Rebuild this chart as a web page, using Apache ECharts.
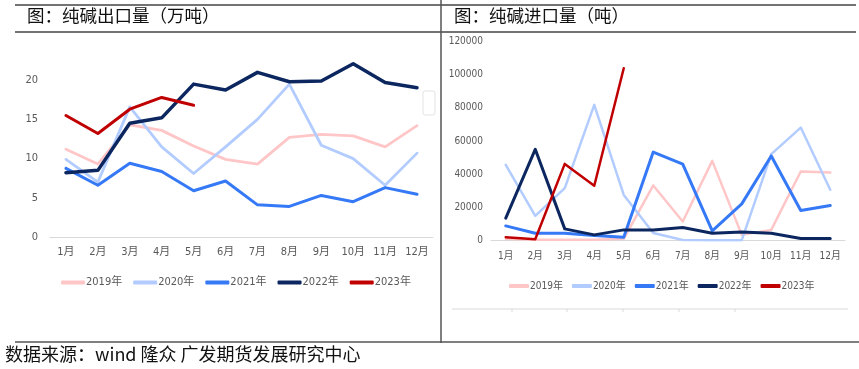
<!DOCTYPE html>
<html><head><meta charset="utf-8">
<script src="https://cdn.jsdelivr.net/npm/echarts@6/dist/echarts.min.js"></script>
<style>html,body{margin:0;padding:0;background:#fff}#c{width:859px;height:369px}</style>
</head><body><div id="c"></div>
<script>
const months = ['1月','2月','3月','4月','5月','6月','7月','8月','9月','10月','11月','12月'];
const seriesNames = ['2019年','2020年','2021年','2022年','2023年'];
const colors = ['#FFC6C8','#B3CCFF','#3579F6','#0C2760','#C00000'];

// 纯碱出口量（万吨）
const exp2019 = [11.2, 9.3, 14.3, 13.6, 11.6, 9.9, 9.3, 12.7, 13.1, 12.9, 11.5, 14.2];
const exp2020 = [9.9, 7.0, 16.6, 11.5, 8.1, 11.5, 15.0, 19.5, 11.7, 10.0, 6.6, 10.7];
const exp2021 = [8.75, 6.6, 9.4, 8.35, 5.9, 7.15, 4.1, 3.9, 5.3, 4.5, 6.3, 5.45];
const exp2022 = [8.2, 8.5, 14.5, 15.2, 19.5, 18.75, 21.0, 19.8, 19.9, 22.1, 19.7, 19.05];
const exp2023 = [15.5, 13.2, 16.3, 17.8, 16.8];

// 纯碱进口量（吨）
const imp2019 = [1000, 500, 500, 500, 1000, 33200, 11500, 48000, 3400, 6400, 41600, 41000];
const imp2020 = [45600, 14900, 31600, 81800, 27500, 4500, 300, 200, 200, 52100, 68100, 30600];
const imp2021 = [8800, 4400, 4400, 3000, 2000, 53300, 46000, 5800, 22100, 51000, 18100, 21100];
const imp2022 = [13500, 55000, 7000, 3400, 6400, 6400, 7800, 4400, 5200, 4400, 1200, 1200];
const imp2023 = [2000, 800, 46200, 33000, 103900];

const expData = [exp2019, exp2020, exp2021, exp2022, exp2023];
const impData = [imp2019, imp2020, imp2021, imp2022, imp2023];
const leftWidths = [2.8, 2.8, 3, 3.5, 3];
const rightWidths = [2.5, 2.5, 3, 3, 2.5];

const chart = echarts.init(document.getElementById('c'));
const labelFont = 'Liberation Sans Narrow, DejaVu Sans Condensed, Noto Sans CJK SC, sans-serif';
const series = [];
seriesNames.forEach((n, i) => {
  series.push({name: n, type: 'line', xAxisIndex: 0, yAxisIndex: 0, data: expData[i],
    symbol: 'none', lineStyle: {color: colors[i], width: leftWidths[i], cap: 'round', join: 'round'},
    itemStyle: {color: colors[i]}, z: 2 + i});
});
seriesNames.forEach((n, i) => {
  series.push({name: n, type: 'line', xAxisIndex: 1, yAxisIndex: 1, data: impData[i],
    symbol: 'none', lineStyle: {color: colors[i], width: rightWidths[i], cap: 'round', join: 'round'},
    itemStyle: {color: colors[i]}, z: 2 + i});
});

const lineStyleDark = {stroke: '#444', lineWidth: 1.5};
const thin = {stroke: '#D9D9D9', lineWidth: 1};
chart.setOption({
  animation: false,
  backgroundColor: '#fff',
  grid: [
    {left: 50, top: 41, width: 383, height: 196},
    {left: 491, top: 41.5, width: 354, height: 199}
  ],
  xAxis: [
    {gridIndex: 0, type: 'category', data: months, boundaryGap: true,
     axisLine: {lineStyle: {color: '#D9D9D9'}}, axisTick: {show: false},
     axisLabel: {color: '#595959', fontSize: 11, margin: 10, interval: 0, fontFamily: labelFont}},
    {gridIndex: 1, type: 'category', data: months, boundaryGap: true,
     axisLine: {lineStyle: {color: '#D9D9D9'}}, axisTick: {show: false},
     axisLabel: {color: '#595959', fontSize: 10, margin: 11, interval: 0, fontFamily: labelFont}}
  ],
  yAxis: [
    {gridIndex: 0, type: 'value', min: 0, max: 25, interval: 5,
     axisLine: {show: false}, axisTick: {show: false}, splitLine: {show: false},
     axisLabel: {color: '#595959', fontSize: 11, margin: 12, showMaxLabel: false, fontFamily: labelFont}},
    {gridIndex: 1, type: 'value', min: 0, max: 120000, interval: 20000,
     axisLine: {show: false}, axisTick: {show: false}, splitLine: {show: false},
     axisLabel: {color: '#595959', fontSize: 10, margin: 8, fontFamily: labelFont,
                 formatter: v => String(v)}}
  ],
  legend: [
    {left: 61, top: 277, padding: 0, itemWidth: 24, itemHeight: 4, itemGap: 11, icon: 'roundRect',
     data: seriesNames, selectedMode: false,
     textStyle: {color: '#595959', fontSize: 11, fontFamily: labelFont, padding: [0, 0, 0, -4]}},
    {left: 509, top: 281, padding: 0, itemWidth: 20, itemHeight: 4, itemGap: 9, icon: 'roundRect',
     data: seriesNames, selectedMode: false,
     textStyle: {color: '#595959', fontSize: 10, fontFamily: labelFont, padding: [0, 0, 0, -4]}}
  ],
  graphic: [
    {type: 'line', shape: {x1: 15, y1: 5, x2: 856, y2: 5}, style: lineStyleDark},
    {type: 'line', shape: {x1: 15, y1: 32, x2: 856, y2: 32}, style: lineStyleDark},
    {type: 'line', shape: {x1: 441, y1: 0, x2: 441, y2: 343}, style: {stroke: '#555', lineWidth: 1.5}},
    {type: 'line', shape: {x1: 15, y1: 342, x2: 859, y2: 342}, style: {stroke: '#555', lineWidth: 1.5}},
    {type: 'line', shape: {x1: 452, y1: 309, x2: 848, y2: 309}, style: thin},
    {type: 'line', shape: {x1: 512, y1: 309, x2: 512, y2: 312}, style: thin},
    {type: 'line', shape: {x1: 567, y1: 309, x2: 567, y2: 312}, style: thin},
    {type: 'line', shape: {x1: 623, y1: 309, x2: 623, y2: 312}, style: thin},
    {type: 'line', shape: {x1: 679, y1: 309, x2: 679, y2: 312}, style: thin},
    {type: 'line', shape: {x1: 735, y1: 309, x2: 735, y2: 312}, style: thin},
    {type: 'rect', shape: {x: 423, y: 91, width: 12, height: 24, r: 2}, style: {fill: '#fff', stroke: '#E3E3E3', lineWidth: 1}},
    {type: 'text', left: 27, top: 7, style: {text: '图：纯碱出口量（万吨）', fill: '#111', font: '17.5px "Noto Sans CJK SC", sans-serif'}},
    {type: 'text', left: 454, top: 7, style: {text: '图：纯碱进口量（吨）', fill: '#111', font: '17.5px "Noto Sans CJK SC", sans-serif'}},
    {type: 'text', left: 5, top: 345, style: {text: '数据来源：wind 隆众 广发期货发展研究中心', fill: '#111', font: '18px "Noto Sans CJK SC", sans-serif'}}
  ],
  series: series
});
</script></body></html>
